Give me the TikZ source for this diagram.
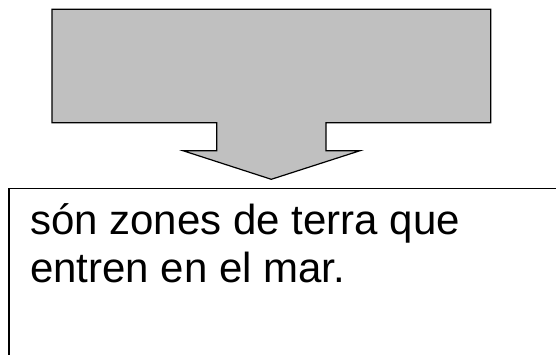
\documentclass[tikz,border=0pt]{standalone}
\usepackage{fontspec}
\setmainfont{Liberation Sans}
\usepackage{tikz}
\usetikzlibrary{positioning}

\begin{document}
\begin{tikzpicture}[x=1pt,y=-1pt,
		arrowshape/.style={draw=black,fill=silver,line width=1.2pt,line join=miter},
		textbox/.style={draw=black,line width=1.2pt}]
			\definecolor{silver}{HTML}{C0C0C0}
			\useasboundingbox (0,0) rectangle (556,354);
			\clip (0,0) rectangle (556,354);
			
			\draw[arrowshape] (52,9.3) -- (490.7,9.3) -- (490.7,122.7) -- (326,122.7) -- (326,150.7)
				-- (360,150.7) -- (271.3,179.3) -- (183,150.7) -- (216.7,150.7) -- (216.7,122.7)
				-- (52,122.7) -- cycle;
			
			\draw[textbox] (9,188.5) rectangle (580,380);
			\node[anchor=base west,align=left,inner sep=0pt,font=\fontsize{42}{48}\selectfont] (def) at (30,282)
				{són zones de terra que\\entren en el mar.};
		\end{tikzpicture}
\end{document}
